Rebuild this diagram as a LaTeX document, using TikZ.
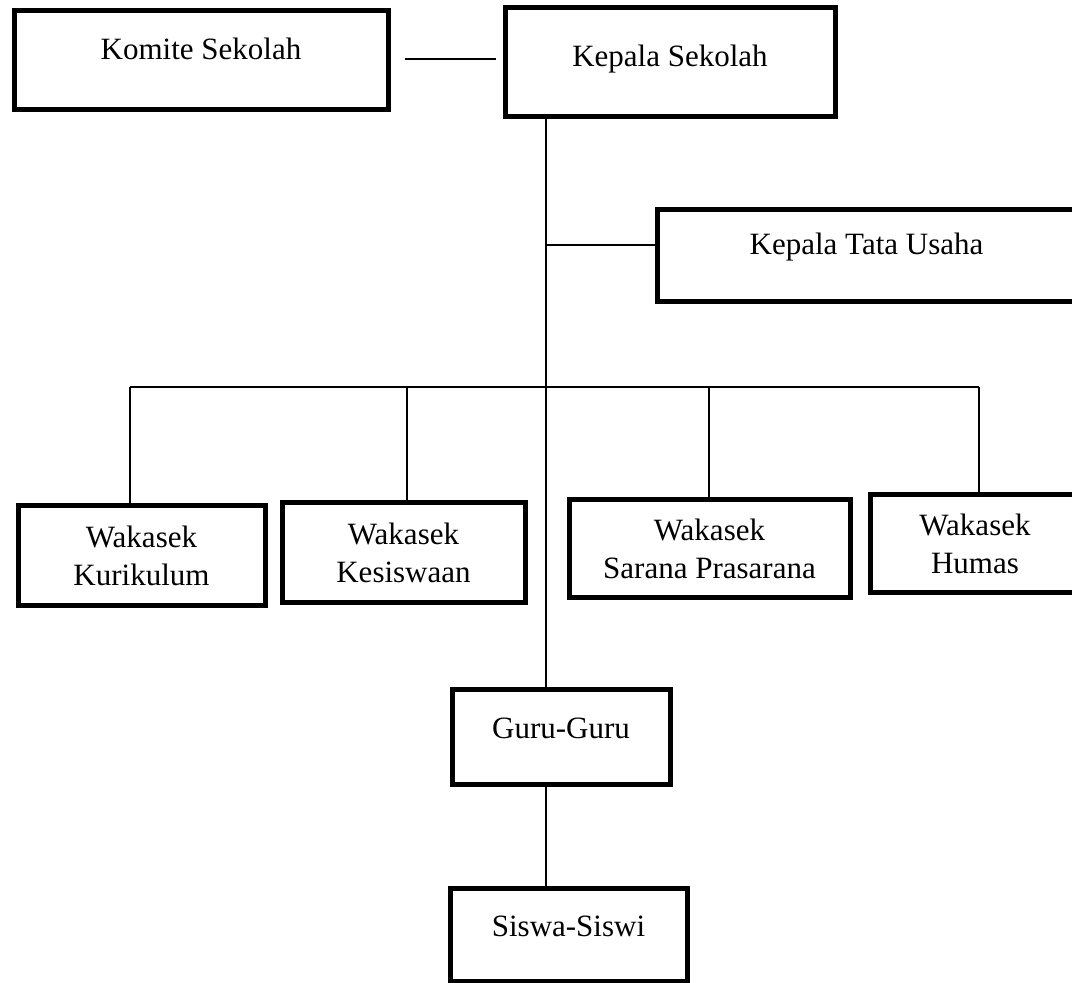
\documentclass[tikz,border=0pt]{standalone}
\usepackage{fontspec}
\setmainfont{Liberation Serif}
\usepackage{tikz}
\usetikzlibrary{positioning}

\begin{document}
\begin{tikzpicture}[x=0.5pt,y=-0.5pt,
  font=\fontsize{15.5}{19}\selectfont,
  jabatan/.style={draw, line width=2.5pt, inner sep=0pt, text height=11pt, text depth=#1},
  jabatan/.default=3.5pt,
  wakil/.style={draw, line width=2.5pt, inner sep=0pt, align=center},
  link/.style={line width=0.8pt}]

% page frame
\clip (0,0) rectangle (1072,983);
\fill[white] (0,0) rectangle (1072,983);

% top row
\node[jabatan=11.5pt, minimum width=187pt, minimum height=49.5pt] (komite) at (201,60.5) {Komite Sekolah};
\node[jabatan=6.5pt, minimum width=165pt, minimum height=54.5pt] (kepsek) at (670,62.5) {Kepala Sekolah};
\node[jabatan=12pt, minimum width=209.5pt, minimum height=46pt] (ktu) at (866.5,256) {Kepala Tata Usaha};

% wakasek row
\node[wakil, minimum width=123.5pt, minimum height=50pt] (kur) at (141.5,556) {Wakasek\\Kurikulum};
\node[wakil, minimum width=121.5pt, minimum height=50pt] (kes) at (403.5,553) {Wakasek\\Kesiswaan};
\node[wakil, minimum width=140.5pt, minimum height=49pt] (sar) at (709.5,549) {Wakasek\\Sarana Prasarana};
\node[wakil, minimum width=105pt, minimum height=49pt] (hum) at (975,544) {Wakasek\\Humas};

% bottom
\node[jabatan=9.5pt, minimum width=109pt, minimum height=47.5pt] (guru) at (561,737.5) {Guru-Guru};
\node[jabatan=10pt, minimum width=118.5pt, minimum height=46pt] (siswa) at (568.5,935) {Siswa-Siswi};

% connectors
\coordinate (trunk) at (546,117);
\coordinate (tu) at (546,245);
\draw[link, shorten <=7pt, shorten >=3.5pt] (komite.east |- 0,59) -- (kepsek.west |- 0,59);
\draw[link] (trunk |- kepsek.south) -- (trunk |- guru.north);
\draw[link] (tu) -- (tu -| ktu.west);
\draw[link] (trunk |- guru.south) -- (trunk |- siswa.north);

% bus to the wakasek boxes
\draw[link] (130,387) -- (979,387);
\foreach \b/\x in {kur/130, kes/407, sar/709, hum/979}
  \draw[link] (\x,387) -- (\x,387 |- \b.north);

\end{tikzpicture}
\end{document}
